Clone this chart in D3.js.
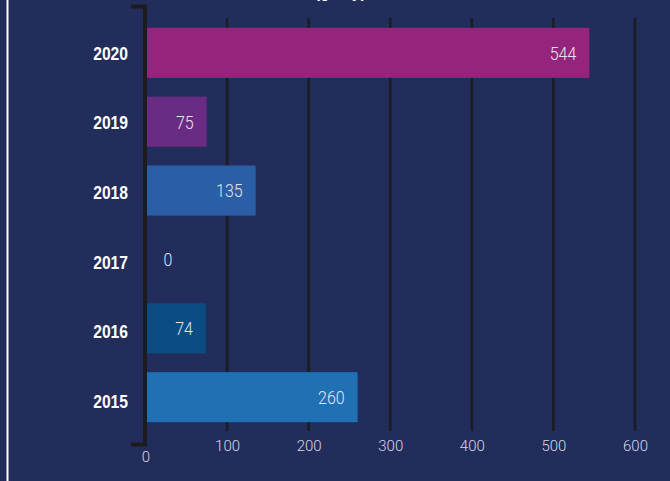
<!DOCTYPE html>
<html><head><meta charset="utf-8">
<script src="https://cdn.jsdelivr.net/npm/d3@7"></script>
<style>
html,body{margin:0;padding:0;background:#222d5b;}
svg{display:block;}
</style></head>
<body>
<svg id="chart" width="670" height="481"></svg>
<script>
const titleText = "Amount (g/day)";
const years = ["2020", "2019", "2018", "2017", "2016", "2015"];
const values = [544, 75, 135, 0, 74, 260];
const barColors = ["#96247d", "#6a2b84", "#2a5fa8", "#2a5fa8", "#0b4c82", "#2070b4"];
const xTicks = [0, 100, 200, 300, 400, 500, 600];

const svg = d3.select("#chart");
const W = 670, H = 481;
svg.append("rect").attr("width", W).attr("height", H).attr("fill", "#222d5b");
svg.append("line").attr("x1", 7.5).attr("x2", 7.5).attr("y1", 0).attr("y2", H)
  .attr("stroke", "#ffffff").attr("stroke-width", 2);

// title (cut off at top, as in the reference)
svg.append("text").attr("transform", "translate(366,-3.2) scale(0.87,1)").attr("text-anchor", "end")
  .attr("fill", "#fff").attr("font-family", "Liberation Sans, sans-serif")
  .attr("font-weight", "bold").attr("font-size", 18).text(titleText);

const x = d3.scaleLinear().domain([0, 600]).range([145.5, 635]);
const y = d3.scaleBand().domain(years).range([9, 441]).paddingInner(0.273).paddingOuter(0.273);
const yLab = d3.scaleBand().domain(years).range([9, 445.5]).paddingInner(0.273).paddingOuter(0.273);

// gridlines
svg.append("g").selectAll("line").data(xTicks.filter(d => d > 0)).join("line")
  .attr("x1", d => x(d)).attr("x2", d => x(d)).attr("y1", 18).attr("y2", 431)
  .attr("stroke", "#1c1c22").attr("stroke-width", 2.6);

// bars
svg.append("g").selectAll("rect").data(years).join("rect")
  .attr("x", x(0)).attr("y", d => y(d))
  .attr("width", (d, i) => x(values[i]) - x(0))
  .attr("height", y.bandwidth())
  .attr("fill", (d, i) => barColors[i]);

// value labels
svg.append("g").selectAll("text").data(years).join("text")
  .attr("transform", (d, i) => {
    const tx = values[i] === 0 ? x(0) + 18 : x(values[i]) - 13;
    const ty = y(d) + y.bandwidth() / 2;
    return `translate(${tx},${ty}) scale(0.84,1)`;
  })
  .attr("dy", "0.36em")
  .attr("text-anchor", (d, i) => values[i] === 0 ? "start" : "end")
  .attr("fill", "#e4e4f0")
  .attr("font-family", "Roboto, Liberation Sans, sans-serif")
  .attr("font-weight", 300)
  .attr("font-size", 19)
  .text((d, i) => values[i]);

// y axis (bracket)
const yAxis = d3.axisLeft(yLab).tickSize(0).tickSizeOuter(0).tickPadding(0);
const gy = svg.append("g").attr("transform", "translate(145,0)").call(yAxis);
gy.select(".domain").attr("stroke", "#1c1c1e").attr("stroke-width", 4).attr("fill", "none")
  .attr("d", "M-14,6.5H0V444.5H-14");
gy.selectAll(".tick text")
  .attr("x", null)
  .attr("transform", "translate(-17,0) scale(0.87,1)")
  .attr("dy", "0.36em")
  .attr("fill", "#fff")
  .attr("font-family", "Liberation Sans, sans-serif")
  .attr("font-weight", "bold").attr("font-size", 18);

// x axis labels
const xAxis = d3.axisBottom(x).tickValues(xTicks).tickSize(0).tickPadding(0);
const gx = svg.append("g").attr("transform", "translate(0,442)").call(xAxis);
gx.select(".domain").remove();
gx.selectAll(".tick text").attr("fill", "#d4d7e6")
  .attr("font-family", "Roboto, Liberation Sans, sans-serif").attr("font-weight", 300)
  .attr("font-size", 15)
  .attr("dy", d => d === 0 ? "1.3em" : "0.6em");
</script>
</body></html>
